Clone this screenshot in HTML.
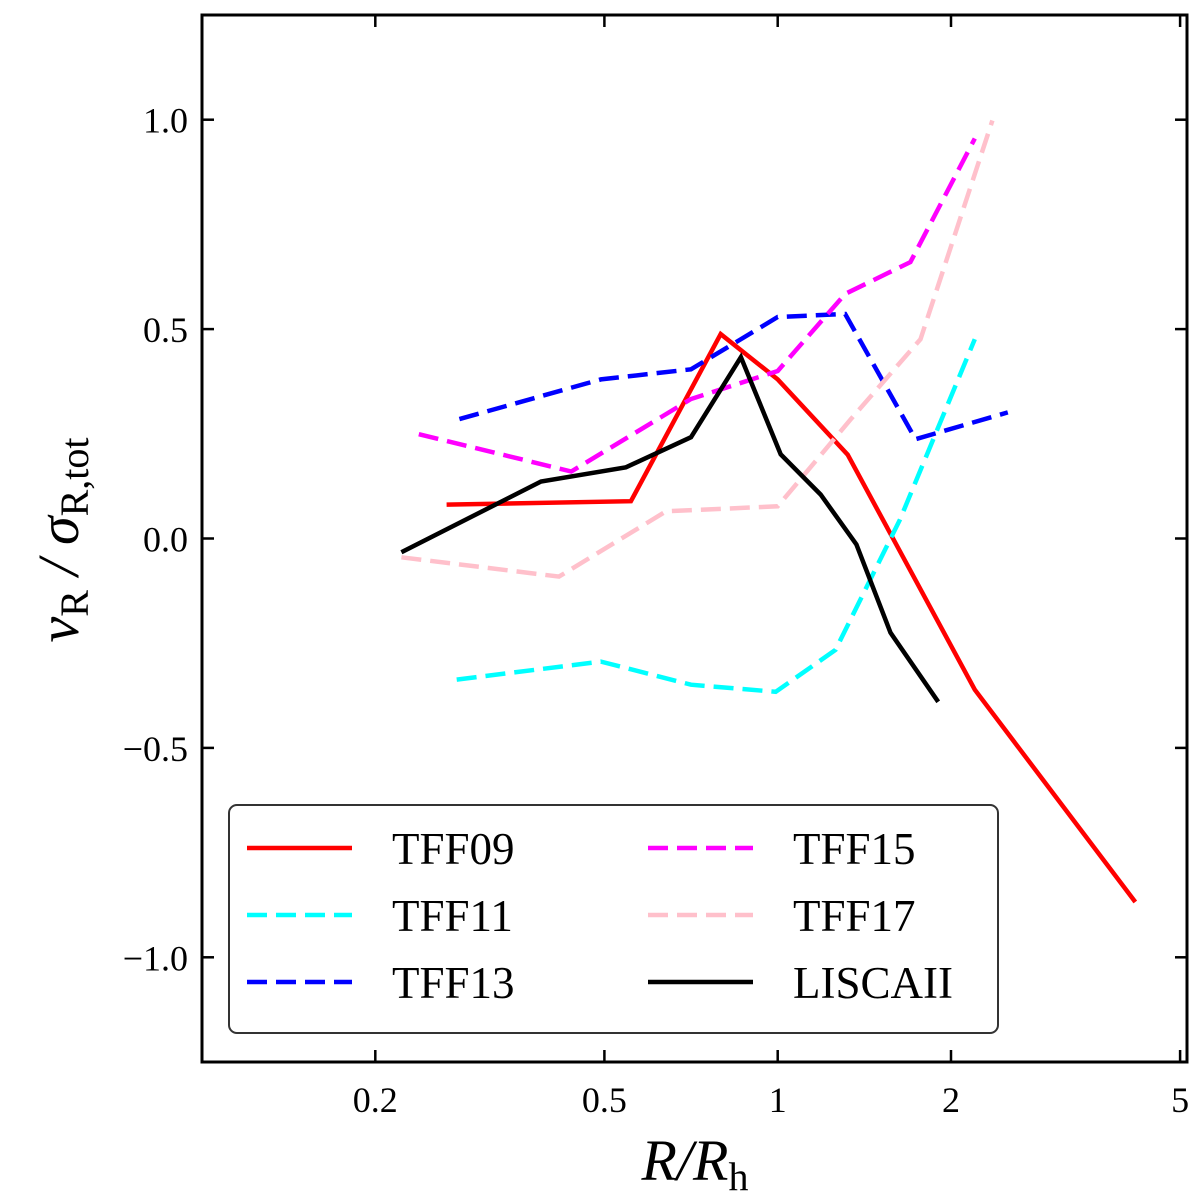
<!DOCTYPE html>
<html><head><meta charset="utf-8">
<style>
html,body{margin:0;padding:0;background:#fff;}
svg{display:block;font-family:"Liberation Serif",serif;}
</style></head>
<body>
<svg id="chart" width="1200" height="1202" xmlns="http://www.w3.org/2000/svg"></svg>
<script>
const seriesNames = ["TFF09","TFF11","TFF13","TFF15","TFF17","LISCAII"];
const tff09X = [0.266,0.556,0.796,1.0,1.323,2.20,4.18];
const tff09Y = [0.081,0.089,0.488,0.38,0.20,-0.361,-0.868];
const tff11X = [0.277,0.493,0.707,0.992,1.26,1.63,2.20];
const tff11Y = [-0.337,-0.294,-0.349,-0.366,-0.266,0.045,0.476];
const tff13X = [0.28,0.493,0.707,1.0,1.31,1.735,2.51];
const tff13Y = [0.285,0.38,0.404,0.529,0.536,0.237,0.301];
const tff15X = [0.238,0.438,0.707,1.0,1.31,1.70,2.20];
const tff15Y = [0.249,0.160,0.333,0.40,0.584,0.66,0.955];
const tff17X = [0.222,0.417,0.64,1.0,1.34,1.77,2.36];
const tff17Y = [-0.045,-0.091,0.065,0.077,0.285,0.476,0.998];
const liscaX = [0.222,0.388,0.545,0.707,0.863,1.012,1.187,1.37,1.57,1.90];
const liscaY = [-0.033,0.136,0.170,0.242,0.433,0.201,0.105,-0.014,-0.225,-0.390];
const xTicks = [0.2,0.5,1,2,5];
const xTickLabels = ["0.2","0.5","1","2","5"];
const yTicks = [-1.0,-0.5,0.0,0.5,1.0];
const yTickLabels = ["\u22121.0","\u22120.5","0.0","0.5","1.0"];

const L=202,R=1187,T=15,B=1062;
const xmin=Math.log10(0.1), xmax=Math.log10(5.14), ymin=-1.25, ymax=1.25;
function xs(v){return L+(Math.log10(v)-xmin)/(xmax-xmin)*(R-L);}
function ys(v){return B-(v-ymin)/(ymax-ymin)*(B-T);}
const NS="http://www.w3.org/2000/svg";
const svg=document.getElementById('chart');
function mk(tag,attrs,parent){const e=document.createElementNS(NS,tag);for(const k in attrs)e.setAttribute(k,attrs[k]);(parent||svg).appendChild(e);return e;}

const styles=[
 {c:"#ff0000",d:null,x:tff09X,y:tff09Y},
 {c:"#00ffff",d:"20,9",x:tff11X,y:tff11Y},
 {c:"#0000ff",d:"20,9",x:tff13X,y:tff13Y},
 {c:"#ff00ff",d:"20,9",x:tff15X,y:tff15Y},
 {c:"#ffc0cb",d:"20,9",x:tff17X,y:tff17Y},
 {c:"#000000",d:null,x:liscaX,y:liscaY}
];
styles.forEach((s,i)=>{
  const pts=s.x.map((v,j)=>xs(v).toFixed(1)+","+ys(s.y[j]).toFixed(1)).join(" ");
  const p=mk('polyline',{points:pts,fill:"none",stroke:s.c,"stroke-width":4.5,"stroke-linejoin":"miter"});
  if(s.d)p.setAttribute('stroke-dasharray',s.d);
  
  
});

const fr=mk('rect',{x:L,y:T,width:R-L,height:B-T,fill:"none",stroke:"#000","stroke-width":3});



xTicks.forEach((v,i)=>{
  const x=xs(v);
  mk('line',{x1:x,y1:B,x2:x,y2:B-12,stroke:"#000","stroke-width":2.5});
  mk('line',{x1:x,y1:T,x2:x,y2:T+12,stroke:"#000","stroke-width":2.5});
  const t=mk('text',{x:x,y:B+50,"font-size":36,"text-anchor":"middle"});
  t.textContent=xTickLabels[i];
  
  
});
yTicks.forEach((v,i)=>{
  const y=ys(v);
  mk('line',{x1:L,y1:y,x2:L+12,y2:y,stroke:"#000","stroke-width":2.5});
  mk('line',{x1:R,y1:y,x2:R-12,y2:y,stroke:"#000","stroke-width":2.5});
  const t=mk('text',{x:L-14,y:y+13,"font-size":36,"text-anchor":"end"});
  t.textContent=yTickLabels[i];
  
  
});

const xt=mk('text',{x:695,y:1180,"font-size":58,"text-anchor":"middle","font-style":"italic"});
xt.innerHTML='R/R<tspan font-style="normal" font-size="40" dy="10">h</tspan>';


const yt=mk('text',{x:0,y:0,"font-size":58,"text-anchor":"middle","font-style":"italic",transform:"translate(78,540) rotate(-90)"});
yt.innerHTML='v<tspan font-style="normal" font-size="40" dy="10">R</tspan><tspan dy="-10"> / σ</tspan><tspan font-style="normal" font-size="40" dy="10">R,tot</tspan>';



const lg=mk('g',{});


mk('rect',{x:229,y:805,width:769,height:228,rx:8,fill:"#fff",stroke:"#333","stroke-width":2},lg);
const pos=[[247,392,848],[247,392,915],[247,392,982],[648,793,848],[648,793,915],[648,793,982]];
styles.forEach((s,i)=>{
  const [lx,tx,y]=pos[i];
  const g=mk('g',{},lg);
  
  
  const l=mk('line',{x1:lx,y1:y,x2:lx+105,y2:y,stroke:s.c,"stroke-width":4.5},g);
  if(s.d)l.setAttribute('stroke-dasharray',s.d);
  const t=mk('text',{x:tx,y:y+16,"font-size":45},g);
  t.textContent=seriesNames[i];
});
</script>
</body></html>
